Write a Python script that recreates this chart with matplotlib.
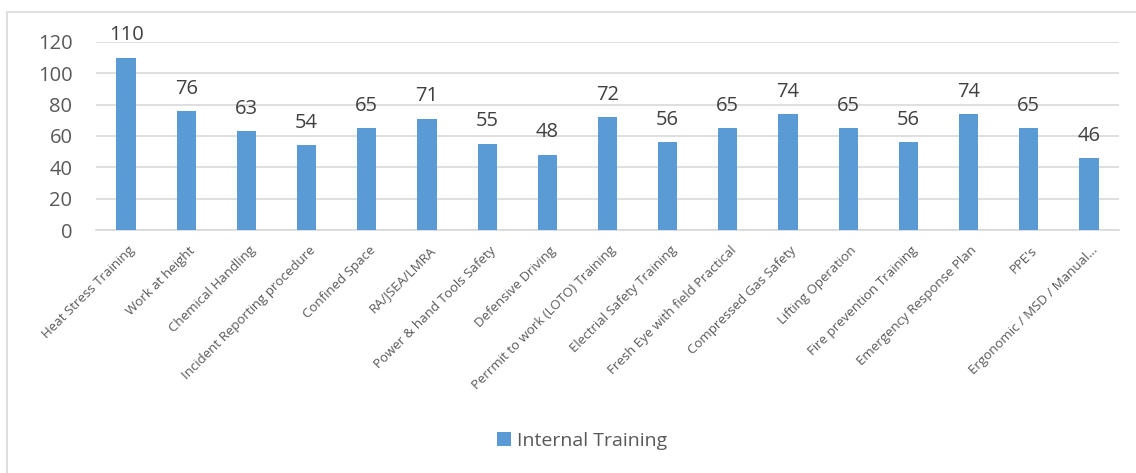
import matplotlib
matplotlib.use("Agg")
import matplotlib.pyplot as plt
from matplotlib.patches import Rectangle
from matplotlib.transforms import ScaledTranslation

categories = [
    "Heat Stress Training", "Work at height", "Chemical Handling",
    "Incident Reporting procedure", "Confined Space", "RA/JSEA/LMRA",
    "Power & hand Tools Safety", "Defensive Driving",
    "Perrmit to work (LOTO) Training", "Electrial Safety Training",
    "Fresh Eye with field Practical", "Compressed Gas Safety",
    "Lifting Operation", "Fire prevention Training",
    "Emergency Response Plan", "PPE's", "Ergonomic / MSD / Manual...",
]
values = [110, 76, 63, 54, 65, 71, 55, 48, 72, 56, 65, 74, 65, 56, 74, 65, 46]
series_name = "Internal Training"
yticks = [0, 20, 40, 60, 80, 100, 120]

plt.rcParams['font.family'] = ['Open Sans', 'DejaVu Sans']
W, H = 1136, 473
fig = plt.figure(figsize=(W / 100, H / 100), dpi=100)

# outer chart border
fig.patches.append(Rectangle((7 / W, -0.1), 1.2, 1 - 12 / H + 0.1,
                             transform=fig.transFigure, fill=False,
                             edgecolor='#d9d9d9', lw=1.2))

ax = fig.add_axes([96 / W, 1 - 230 / H, (1119 - 96) / W, (230 - 42) / H])
bar_color = '#5B9BD5'
x = list(range(len(categories)))
bars = ax.bar(x, values, width=0.32, color=bar_color, label=series_name, zorder=3)
ax.set_xlim(-0.5, len(categories) - 0.5)
ax.set_ylim(0, 120)
ax.set_yticks(yticks)
ax.grid(axis='y', color='#d9d9d9', lw=1.2, zorder=0)
for s in ['top', 'right', 'left']:
    ax.spines[s].set_visible(False)
ax.spines['bottom'].set_color('#d9d9d9')
ax.spines['bottom'].set_linewidth(1.2)
ax.tick_params(axis='both', length=0)
ax.tick_params(axis='y', labelsize=14.5, labelcolor='#595959', pad=17)
ax.set_xticks(x)
ax.set_xticklabels(categories, rotation=45, ha='right', rotation_mode='anchor',
                   fontsize=9.5, color='#595959')
ax.tick_params(axis='x', pad=10)
shift = ScaledTranslation(2 / 100, 0, fig.dpi_scale_trans)
for lab in ax.get_xticklabels():
    lab.set_transform(lab.get_transform() + shift)

for xi, v in zip(x, values):
    ax.annotate(str(v), (xi, v), xytext=(0, 12.5), textcoords='offset points',
                ha='center', va='baseline', fontsize=14.5, color='#404040',
                annotation_clip=False)

leg = fig.legend(handles=[bars], labels=[series_name], loc='center',
                 bbox_to_anchor=(582 / W, 1 - 441 / H), frameon=False,
                 fontsize=14, handlelength=0.7, handleheight=0.7,
                 handletextpad=0.3, labelcolor='#595959')

fig.savefig('out.png', dpi=100, facecolor='white')
